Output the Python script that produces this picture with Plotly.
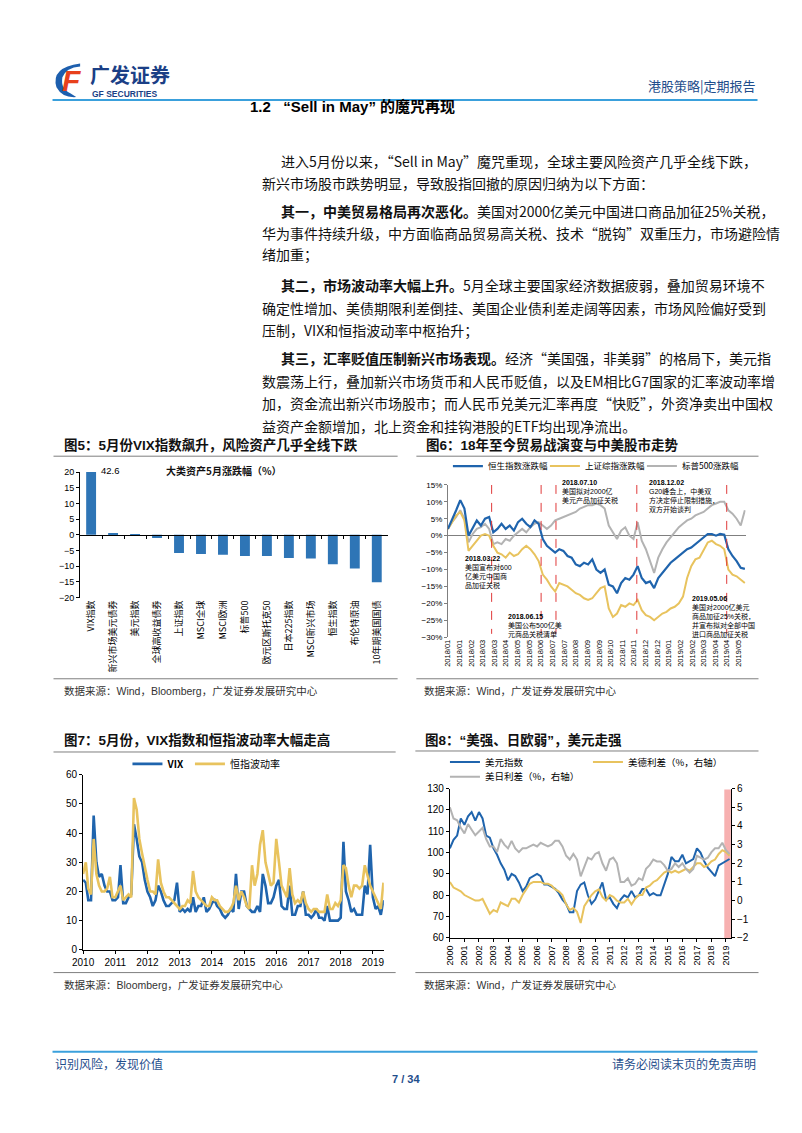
import numpy as np
import pandas as pd
import plotly.graph_objects as go

# The page is 802x1133; the browser adds an 8px body margin, so the figure
# itself is drawn 16px smaller and page coordinates are shifted by 8px.
PAGE_W, PAGE_H = 802, 1133
OFF = 8
FIG_W, FIG_H = PAGE_W - 2 * OFF, PAGE_H - 2 * OFF


def fx(x):
    return (x - OFF) / FIG_W


def fy(y):
    return 1 - (y - OFF) / FIG_H


SANS = "Liberation Sans, Noto Sans CJK SC, sans-serif"
CJK = "Noto Sans CJK SC, Liberation Sans, sans-serif"

# ---------------- Figure 5 data ----------------
f5_categories = ["VIX指数", "新兴市场美元债券", "美元指数", "全球高收益债券", "上证指数",
                 "MSCI全球", "MSCI欧洲", "标普500", "欧元区斯托克50", "日本225指数",
                 "MSCI新兴市场", "恒生指数", "布伦特原油", "10年期美国国债"]
f5_values = [42.6, 0.4, 0.1, -1.0, -5.8, -6.1, -6.3, -6.7, -6.7, -7.4, -7.5, -9.4, -10.7, -15.1]

# ---------------- Figure 6 data (weekly, % change since 2018/01) ----------------
f6_hsi = [2.0, 4.5, 7.5, 10.5, 8.0, 0.0, 2.5, 4.5, 3.0, 5.0,
          5.5, 1.0, 2.0, 3.5, 2.0, 3.0, 1.5, 4.0, 5.0, 3.5,
          2.5, 4.5, 3.5, -1.0, -3.0, -4.0, -5.0, -4.0, -4.5, -6.0,
          -6.5, -8.5, -9.0, -8.0, -8.5, -7.0, -10.0, -11.0, -10.0, -14.5,
          -15.0, -17.0, -14.0, -12.5, -13.0, -11.5, -9.0, -12.5, -14.0, -13.5,
          -15.5, -12.5, -11.0, -9.5, -8.0, -7.0, -6.0, -5.0, -4.0, -3.5,
          -2.5, -1.5, -0.5, 0.5, 0.5, 0.0, 0.5, 0.3, -4.0, -6.0,
          -7.5, -9.5, -9.8]
f6_sse = [2.0, 4.0, 6.0, 7.0, 4.5, -4.5, -3.0, -1.5, 0.0, 0.5,
          0.0, -3.0, -5.0, -5.5, -6.5, -5.0, -6.0, -5.5, -4.0, -3.0,
          -4.0, -5.5, -7.5, -11.5, -13.0, -15.0, -16.5, -14.0, -14.5, -15.0,
          -16.0, -17.0, -17.5, -18.5, -19.0, -18.5, -17.0, -15.5, -15.0, -21.5,
          -24.0, -23.0, -20.5, -21.0, -20.0, -20.5, -19.0, -22.0, -23.5, -24.0,
          -25.0, -24.0, -23.0, -22.5, -21.5, -21.0, -20.0, -18.0, -12.5, -9.0,
          -7.0, -6.5, -4.0, -2.0, -1.5, -2.5, -3.0, -4.0, -10.0, -11.5,
          -12.0, -13.0, -14.0]
f6_spx = [2.0, 4.0, 5.5, 7.5, 5.0, -2.0, 0.5, 2.0, 2.5, 3.5,
          2.0, -2.5, -2.0, -2.5, -1.0, -1.5, 0.0, 1.0, 2.0, 1.0,
          2.5, 3.5, 4.0, 3.0, 2.0, 3.0, 4.5, 5.0, 5.5, 6.0,
          6.5, 7.0, 8.0, 8.5, 9.0, 9.0, 9.5, 9.0, 8.0, 3.0,
          1.0, -1.0, 1.5, 2.5, 0.0, -1.0, 4.0, -1.5, -4.0, -7.5,
          -11.0, -6.5, -4.0, -2.0, -0.5, 1.0, 2.5, 3.5, 4.5, 5.0,
          6.0, 6.5, 7.0, 8.0, 9.0, 9.5, 10.0, 10.0, 7.5, 6.5,
          5.0, 3.0, 7.5]
f6_tick_labels = ["2018/01", "2018/01", "2018/02", "2018/03", "2018/03", "2018/04", "2018/05",
                  "2018/05", "2018/06", "2018/07", "2018/07", "2018/08", "2018/09", "2018/09",
                  "2018/10", "2018/11", "2018/11", "2018/12", "2018/12", "2019/01", "2019/02",
                  "2019/02", "2019/03", "2019/04", "2019/04", "2019/05"]
f6_tick_step_weeks = 2.82
f6_event_weeks = [10.6, 22.6, 26.2, 45.8, 67.6]
f6_event_texts = [
    "<b>2018.03.22</b><br>美国宣布对600<br>亿美元中国商<br>品加征关税",
    "<b>2018.06.15</b><br>美国公布500亿美<br>元商品关税清单",
    "<b>2018.07.10</b><br>美国拟对2000亿<br>美元产品加征关税",
    "<b>2018.12.02</b><br>G20峰会上，中美双<br>方决定停止限制措施，<br>双方开始谈判",
    "<b>2019.05.06</b><br>美国对2000亿美元<br>商品加征25%关税，<br>并宣布拟对全部中国<br>进口商品加征关税",
]

# ---------------- Figure 7 data (monthly, 2010/01 - 2019/05) ----------------
f7_vix = [24, 23, 17, 17, 46, 30, 25, 26, 22, 20, 20, 17,
          17, 18, 29, 16, 16, 18, 19, 43, 38, 32, 30, 24,
          20, 18, 15, 17, 22, 20, 17, 15, 15, 16, 17, 23,
          13, 14, 13, 14, 13, 18, 13, 15, 15, 18, 13, 14,
          16, 17, 15, 14, 12, 11, 12, 14, 13, 26, 14, 20,
          20, 15, 14, 13, 13, 15, 13, 26, 22, 16, 16, 18,
          22, 24, 15, 14, 14, 22, 12, 12, 15, 15, 20, 12,
          12, 11, 12, 14, 11, 11, 10, 15, 10, 10, 10, 10,
          11, 37, 20, 17, 13, 14, 12, 12, 12, 22, 19, 36,
          18, 14, 15, 12, 17]
f7_hsivol = [26, 30, 21, 19, 38, 26, 22, 20, 20, 21, 25, 18,
             18, 20, 22, 17, 18, 19, 18, 52, 48, 38, 33, 28,
             24, 20, 20, 19, 31, 23, 20, 18, 18, 17, 16, 15,
             14, 15, 15, 17, 16, 27, 20, 18, 17, 16, 15, 15,
             18, 17, 17, 15, 14, 13, 13, 14, 16, 22, 17, 20,
             18, 15, 14, 29, 22, 26, 36, 41, 30, 26, 22, 23,
             38, 30, 22, 20, 18, 28, 19, 16, 17, 16, 20, 16,
             14, 13, 14, 14, 13, 13, 13, 19, 14, 14, 16, 15,
             17, 29, 28, 22, 18, 22, 22, 21, 22, 29, 25, 22,
             20, 18, 16, 14, 23]
f7_dates = pd.date_range("2010-01-01", periods=len(f7_vix), freq="MS")

# ---------------- Figure 8 data (quarterly, 2000Q1 - 2019Q2) ----------------
f8_dxy = [102, 106, 108, 116, 113, 117, 119, 115, 119, 116, 108, 107,
          102, 99, 95, 92, 87, 90, 89, 86, 82, 84, 88, 89,
          90, 89, 85, 85, 84, 83, 81, 78, 76, 72, 72, 82,
          85, 86, 80, 76, 78, 82, 86, 78, 79, 76, 74, 78,
          80, 79, 82, 79, 80, 83, 83, 80, 81, 80, 80, 85,
          90, 98, 96, 96, 99, 95, 96, 97, 102, 100, 96, 93,
          91, 89, 94, 95, 96, 97]
f8_us_de = [1.0, 0.7, 0.6, 0.5, 0.3, 0.2, 0.1, 0.0, 0.0, 0.1, -0.3, -0.7,
            -0.5, -0.6, -0.1, -0.2, -0.3, 0.1, 0.1, -0.1, 0.3, 0.6, 0.9, 1.0,
            1.0, 1.0, 0.9, 0.9, 0.8, 0.6, 0.5, 0.3, -0.2, -0.5, -0.4, -0.6,
            -1.2, -0.3, 0.0, 0.3, 0.5, 0.6, 0.2, 0.0, 0.3, 0.2, 0.0, -0.1,
            -0.1, 0.1, -0.2, 0.1, 0.3, 0.3, 0.7, 0.8, 1.0, 1.1, 1.3, 1.5,
            1.6, 1.5, 1.6, 1.5, 1.6, 1.7, 1.6, 1.8, 2.0, 2.0, 1.8, 1.9,
            2.1, 2.2, 2.5, 2.7, 2.6, 2.4]
f8_us_jp = [5.0, 4.4, 4.3, 3.9, 3.6, 4.1, 3.8, 3.5, 3.7, 3.9, 3.3, 2.9,
            2.9, 2.6, 3.3, 3.0, 2.8, 3.2, 2.8, 2.6, 2.8, 2.8, 2.9, 3.0,
            2.9, 3.1, 3.0, 2.9, 3.0, 3.2, 3.2, 2.9, 2.4, 2.2, 2.5, 2.2,
            1.3, 1.8, 2.3, 2.2, 2.5, 2.6, 2.0, 1.6, 2.2, 2.3, 2.0, 1.0,
            1.0, 1.2, 0.8, 0.9, 1.2, 1.1, 1.7, 1.9, 2.2, 2.1, 2.1, 1.9,
            1.6, 1.7, 2.0, 1.8, 2.0, 1.7, 1.5, 1.7, 2.4, 2.3, 2.2, 2.3,
            2.6, 2.8, 2.8, 3.1, 2.7, 2.5]
f8_dates = pd.date_range("2000-01-01", periods=len(f8_dxy), freq="QS")
f8_band = ["2018-11-20", "2019-05-05"]

# ---------------- colours ----------------
BAR = "#2e75b6"
BLUE = "#1f64ad"
YEL = "#e8c35e"
GRAY = "#b3b3b3"
NAVY = "#1f4e8c"
RULE = "#7f7f7f"
LBLUE = "#3aa0dc"

fig = go.Figure()

# ---- Figure 5 bars ----
fig.add_trace(go.Bar(x=f5_categories, y=f5_values, width=0.45,
                     marker=dict(color=BAR, line=dict(width=0)),
                     xaxis="x", yaxis="y", showlegend=False, hoverinfo="skip"))
fig.add_trace(go.Scatter(x=[None], y=[None], xaxis="x5", yaxis="y",
                         showlegend=False, hoverinfo="skip"))

# ---- Figure 6 lines ----
x6 = np.arange(len(f6_hsi))
fig.add_trace(go.Scatter(x=x6, y=f6_spx, name="标普500涨跌幅", mode="lines",
                         line=dict(color=GRAY, width=2), xaxis="x2", yaxis="y2",
                         legend="legend", legendrank=3))
fig.add_trace(go.Scatter(x=x6, y=f6_sse, name="上证综指涨跌幅", mode="lines",
                         line=dict(color=YEL, width=2), xaxis="x2", yaxis="y2",
                         legend="legend", legendrank=2))
fig.add_trace(go.Scatter(x=x6, y=f6_hsi, name="恒生指数涨跌幅", mode="lines",
                         line=dict(color=BLUE, width=2.2), xaxis="x2", yaxis="y2",
                         legend="legend", legendrank=1))

# ---- Figure 7 lines ----
fig.add_trace(go.Scatter(x=f7_dates, y=f7_vix, name="<b>VIX</b>", mode="lines",
                         line=dict(color=BLUE, width=2.6), xaxis="x3", yaxis="y3",
                         legend="legend2", legendrank=1))
fig.add_trace(go.Scatter(x=f7_dates, y=f7_hsivol, name="恒指波动率", mode="lines",
                         line=dict(color=YEL, width=2.6), xaxis="x3", yaxis="y3",
                         legend="legend2", legendrank=2))

# ---- Figure 8 lines ----
fig.add_trace(go.Scatter(x=f8_dates, y=f8_dxy, name="美元指数", mode="lines",
                         line=dict(color=BLUE, width=2), xaxis="x4", yaxis="y4",
                         legend="legend3", legendrank=1))
fig.add_trace(go.Scatter(x=f8_dates, y=f8_us_de, name="美德利差（%，右轴）", mode="lines",
                         line=dict(color=YEL, width=2), xaxis="x4", yaxis="y5",
                         legend="legend3", legendrank=2))
fig.add_trace(go.Scatter(x=f8_dates, y=f8_us_jp, name="美日利差（%，右轴）", mode="lines",
                         line=dict(color=GRAY, width=2), xaxis="x4", yaxis="y5",
                         legend="legend4", legendrank=3))

axis_common = dict(showgrid=False, zeroline=False, tickcolor="#000", linewidth=1)

# Figure 5 axes
f5_dom_y = [fy(598), fy(471)]
fig.update_layout(
    xaxis=dict(domain=[fx(70), fx(382)], anchor="y", type="category",
               range=[-0.5, len(f5_categories) - 0.5], tickangle=-90,
               tickfont=dict(size=9, family=CJK, color="#000"), ticks="", showline=False,
               showgrid=False, zeroline=False),
    yaxis=dict(domain=f5_dom_y, anchor="x", range=[-20, 20], dtick=5,
               tickfont=dict(size=9, family=SANS, color="#000"), showline=True,
               linecolor="#000", ticks="outside", ticklen=3, **axis_common),
    xaxis5=dict(overlaying="x", anchor="free", position=(f5_dom_y[0] + f5_dom_y[1]) / 2,
                range=[-0.5, len(f5_categories) - 0.5],
                tickvals=[i + 0.5 for i in range(len(f5_categories) - 1)],
                ticks="outside", ticklen=3, showticklabels=False, showline=True,
                linecolor="#000", **axis_common),
)

# Figure 6 axes
fig.update_layout(
    xaxis2=dict(domain=[fx(443), fx(745)], anchor="y2", range=[0, len(f6_hsi) - 0.8],
                tickvals=list(np.arange(len(f6_tick_labels)) * f6_tick_step_weeks),
                ticktext=f6_tick_labels, tickangle=-90,
                tickfont=dict(size=7.5, family=SANS, color="#000"), ticks="",
                showline=False, showgrid=False, zeroline=False),
    yaxis2=dict(domain=[fy(638), fy(484)], anchor="x2", range=[-30, 15], dtick=5,
                ticksuffix="%", tickfont=dict(size=8, family=SANS, color="#000"),
                showline=True, linecolor=RULE, ticks="outside", ticklen=3,
                showgrid=False, zeroline=True, zerolinecolor=RULE, zerolinewidth=1,
                tickcolor=RULE),
)

# Figure 7 axes
fig.update_layout(
    xaxis3=dict(domain=[fx(73), fx(378)], anchor="y3", type="date",
                range=["2010-01-01", "2019-05-05"], tick0="2010-01-01", dtick="M12",
                tickformat="%Y", ticks="outside", ticklen=3, showline=True, linecolor="#000",
                tickfont=dict(size=10, family=SANS, color="#000"), **axis_common),
    yaxis3=dict(domain=[fy(954), fy(777)], anchor="x3", range=[0, 60], dtick=10,
                showline=True, linecolor="#000", ticks="outside", ticklen=3,
                tickfont=dict(size=10, family=SANS, color="#000"), **axis_common),
)

# Figure 8 axes
fig.update_layout(
    xaxis4=dict(domain=[fx(445), fx(730)], anchor="y4", type="date",
                range=["2000-01-01", "2019-05-05"], tick0="2000-01-01", dtick="M12",
                tickformat="%Y", tickangle=-90, ticks="outside", ticklen=3, showline=True,
                linecolor="#000", tickfont=dict(size=9, family=SANS, color="#000"),
                **axis_common),
    yaxis4=dict(domain=[fy(942), fy(791)], anchor="x4", range=[60, 130], dtick=10,
                showline=True, linecolor="#000", ticks="outside", ticklen=3,
                tickfont=dict(size=10, family=SANS, color="#000"), **axis_common),
    yaxis5=dict(overlaying="y4", side="right", anchor="x4", range=[-2, 6], dtick=1,
                showline=True, linecolor="#000", ticks="outside", ticklen=3,
                tickfont=dict(size=10, family=SANS, color="#000"), **axis_common),
)

# Legends
leg_common = dict(orientation="h", xanchor="left", yanchor="middle",
                  bgcolor="rgba(0,0,0,0)", itemwidth=30)
fig.update_layout(
    legend=dict(x=fx(443), y=fy(465), font=dict(size=8.5, family=CJK, color="#000"),
                entrywidth=52, **leg_common),
    legend2=dict(x=fx(118), y=fy(766), font=dict(size=10, family=CJK, color="#000"), **leg_common),
    legend3=dict(x=fx(440), y=fy(764), font=dict(size=9.5, family=CJK, color="#000"),
                 entrywidth=98, **leg_common),
    legend4=dict(x=fx(440), y=fy(779), font=dict(size=9.5, family=CJK, color="#000"), **leg_common),
)

shapes = []


def hline(x0, x1, y, color, width=1, layer="above"):
    shapes.append(dict(type="line", xref="paper", yref="paper", x0=fx(x0), x1=fx(x1),
                       y0=fy(y), y1=fy(y), line=dict(color=color, width=width), layer=layer))


# keep long rotated labels from running below the source rule
shapes.append(dict(type="rect", xref="paper", yref="paper", x0=fx(36), x1=fx(399),
                   y0=fy(720), y1=fy(680.5), fillcolor="white", line=dict(width=0), layer="above"))

hline(42, 757, 95, LBLUE, 2)
hline(42, 757, 1057, LBLUE, 2)
hline(43, 392, 455, RULE)
hline(411, 758, 455, RULE)
hline(43, 392, 680, RULE)
hline(411, 758, 680, RULE)
hline(43, 390, 754, RULE)
hline(410, 758, 753, RULE)
hline(43, 390, 977, RULE)
hline(410, 758, 977, RULE)

# Figure 6 event lines
for w in f6_event_weeks:
    shapes.append(dict(type="line", xref="x2", yref="y2", x0=w, x1=w, y0=15, y1=-29,
                       line=dict(color="#e03a3a", width=1, dash="dash"), layer="above"))

# Figure 8 shaded band
shapes.append(dict(type="rect", xref="x4", yref="y5", x0=f8_band[0], x1=f8_band[1],
                   y0=-2, y1=5.95, fillcolor="rgba(244,150,150,0.75)", line=dict(width=0),
                   layer="below"))

# Logo swoosh
shapes.append(dict(type="path", xref="paper", yref="paper",
                   path=f"M {fx(70)} {fy(58)} Q {fx(40)} {fy(62)} {fx(46)} {fy(82)} "
                        f"Q {fx(52)} {fy(93)} {fx(66)} {fy(92)} L {fx(60)} {fy(88)} "
                        f"Q {fx(50)} {fy(84)} {fx(52)} {fy(72)} Q {fx(56)} {fy(62)} {fx(70)} {fy(61)} Z",
                   fillcolor="#1d5fae", line=dict(width=0)))
fig.update_layout(shapes=shapes)

ann = []


def text(x, y, s, size=12, color="#000", family=CJK, xanchor="left", yanchor="middle",
         align="left"):
    ann.append(dict(x=fx(x), y=fy(y), xref="paper", yref="paper", text=s, showarrow=False,
                    xanchor=xanchor, yanchor=yanchor, align=align,
                    font=dict(size=size, color=color, family=family)))


# header
text(61, 75, "<b><i>F</i></b>", 30, "#e8411c", SANS, "center")
text(78, 69, "<b>广发证券</b>", 20, "#1b3f86")
text(80, 88.5, "<b>GF SECURITIES</b>", 8.5, "#1b3f86", SANS)
text(757, 80, "港股策略|定期报告", 13, NAVY, CJK, "right")

# section heading
text(240, 102, "<b>1.2   “Sell in May” 的魔咒再现</b>", 15, "#000", SANS)

# body
body = [
    (272, 157, "进入5月份以来，“Sell in May”魔咒重现，全球主要风险资产几乎全线下跌，"),
    (252, 179, "新兴市场股市跌势明显，导致股指回撤的原因归纳为以下方面："),
    (272, 207, "<b>其一，中美贸易格局再次恶化。</b>美国对2000亿美元中国进口商品加征25%关税，"),
    (252, 229, "华为事件持续升级，中方面临商品贸易高关税、技术“脱钩”双重压力，市场避险情"),
    (252, 251, "绪加重；"),
    (272, 282, "<b>其二，市场波动率大幅上升。</b>5月全球主要国家经济数据疲弱，叠加贸易环境不"),
    (252, 305, "确定性增加、美债期限利差倒挂、美国企业债利差走阔等因素，市场风险偏好受到"),
    (252, 327, "压制，VIX和恒指波动率中枢抬升；"),
    (272, 356, "<b>其三，汇率贬值压制新兴市场表现。</b>经济“美国强，非美弱”的格局下，美元指"),
    (252, 379, "数震荡上行，叠加新兴市场货币和人民币贬值，以及EM相比G7国家的汇率波动率增"),
    (252, 401, "加，资金流出新兴市场股市；而人民币兑美元汇率再度“快贬”，外资净卖出中国权"),
    (252, 424, "益资产金额增加，北上资金和挂钩港股的ETF均出现净流出。"),
]
for x, y, s in body:
    text(x, y, s, 14, "#111")

# figure titles
text(52, 444, "<b>图5：5月份VIX指数飙升，风险资产几乎全线下跌</b>", 13.5, "#111", SANS)
text(419, 444, "<b>图6：18年至今贸易战演变与中美股市走势</b>", 13.5, "#111", SANS)
text(52, 742, "<b>图7：5月份，VIX指数和恒指波动率大幅走高</b>", 13.5, "#111", SANS)
text(418, 742, "<b>图8：“美强、日欧弱”，美元走强</b>", 13.5, "#111", SANS)

# sources
text(52, 692, "数据来源：Wind，Bloomberg，广发证券发展研究中心", 10.5, "#333", SANS)
text(417, 692, "数据来源：Wind，广发证券发展研究中心", 10.5, "#333", SANS)
text(52, 990, "数据来源：Bloomberg，广发证券发展研究中心", 10.5, "#333", SANS)
text(417, 990, "数据来源：Wind，广发证券发展研究中心", 10.5, "#333", SANS)

# figure 5 inner labels
text(155, 469, "<b>大类资产5月涨跌幅（%）</b>", 10, "#111", CJK)
text(89, 469, f"{f5_values[0]:.1f}", 9.5, "#000", SANS)

# figure 6 event notes
f6_note_pos = [(458, 553), (502, 611), (557, 476), (645, 476), (689, 593)]
for (x, y), s in zip(f6_note_pos, f6_event_texts):
    text(x, y, s, 7, "#000", SANS, "left", "top")

# footer
text(42, 1069, "识别风险，发现价值", 12, NAVY)
text(757, 1069, "请务必阅读末页的免责声明", 12, NAVY, CJK, "right")
text(400, 1085, "<b>7 / 34</b>", 11, NAVY, SANS, "center")

fig.update_layout(annotations=ann)

fig.update_layout(width=FIG_W, height=FIG_H, margin=dict(l=0, r=0, t=0, b=0),
                  paper_bgcolor="white", plot_bgcolor="rgba(0,0,0,0)",
                  bargap=0.5, showlegend=True,
                  font=dict(family=CJK, color="#000"))

fig.write_html("out.html", config={"displayModeBar": False})
